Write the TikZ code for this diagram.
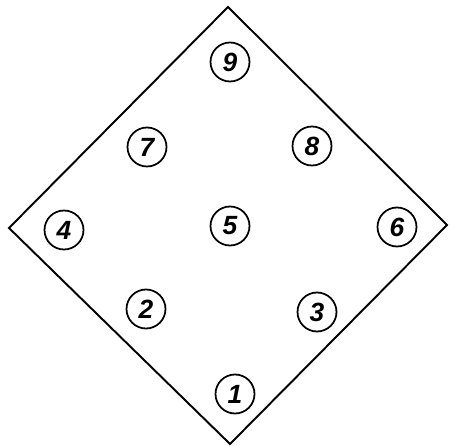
\documentclass[tikz,border=0pt]{standalone}
\usepackage{fontspec}
\setsansfont{Liberation Sans}
\usepackage{tikz}

\begin{document}
\begin{tikzpicture}[scale=0.02,
  cell/.style={draw, circle, line width=1pt, minimum size=0.78cm, inner sep=0pt, font=\sffamily\bfseries\itshape\fontsize{15}{15}\selectfont}]
  \useasboundingbox (0,0) rectangle (450,-446);
  \draw[line width=1.1pt, line join=miter] (228,-7) -- (447,-225) -- (230,-444) -- (9,-228) -- cycle;
  \node[cell] (n9) at (230,-62) {9};
  \node[cell] (n7) at (147,-147) {7};
  \node[cell] (n8) at (312,-146) {8};
  \node[cell] (n4) at (64,-230) {4};
  \node[cell] (n5) at (230,-226) {5};
  \node[cell] (n6) at (397,-227) {6};
  \node[cell] (n2) at (146,-309) {2};
  \node[cell] (n3) at (317,-312) {3};
  \node[cell] (n1) at (235,-394) {1};
\end{tikzpicture}
\end{document}
